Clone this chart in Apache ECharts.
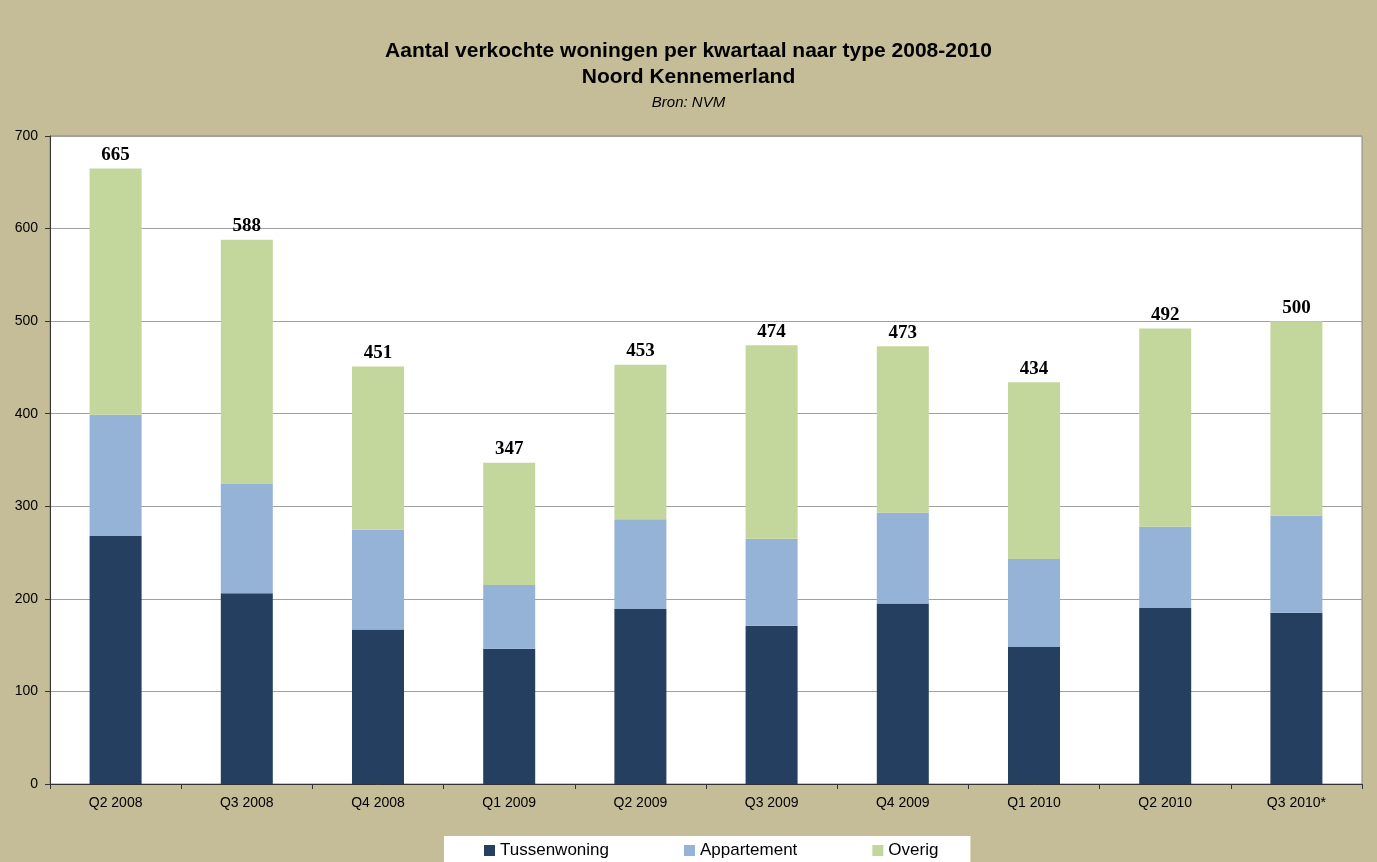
<!DOCTYPE html>
<html>
<head>
<meta charset="utf-8">
<script src="https://cdn.jsdelivr.net/npm/echarts@6/dist/echarts.min.js"></script>
<style>
html,body{margin:0;padding:0;background:#C4BD97;}
#chart{width:1377px;height:862px;}
</style>
</head>
<body>
<div id="chart"></div>
<script>
var categories = ['Q2 2008','Q3 2008','Q4 2008','Q1 2009','Q2 2009','Q3 2009','Q4 2009','Q1 2010','Q2 2010','Q3 2010*'];
var tussenwoning = [268, 206, 167, 146, 189, 171, 195, 148, 190, 185];
var appartement  = [131, 118, 108, 69, 97, 94, 98, 95, 88, 105];
var overig       = [266, 264, 176, 132, 167, 209, 180, 191, 214, 210];
var totals       = [665, 588, 451, 347, 453, 474, 473, 434, 492, 500];
var yTicks = [0, 100, 200, 300, 400, 500, 600, 700];

var FONT = '"Liberation Sans", Arial, sans-serif';
var chart = echarts.init(document.getElementById('chart'), null, {renderer: 'canvas'});
chart.setOption({
  backgroundColor: '#C4BD97',
  animation: false,
  title: [
    {text: 'Aantal verkochte woningen per kwartaal naar type 2008-2010', left: 'center', top: 36,
     textStyle: {fontFamily: FONT, fontSize: 21, fontWeight: 'bold', color: '#000'}},
    {text: 'Noord Kennemerland', left: 'center', top: 62,
     textStyle: {fontFamily: FONT, fontSize: 21, fontWeight: 'bold', color: '#000'}},
    {text: 'Bron: NVM', left: 'center', top: 90,
     textStyle: {fontFamily: FONT, fontSize: 15, fontStyle: 'italic', fontWeight: 'normal', color: '#000'}}
  ],
  legend: {
    left: 444, top: 836,
    backgroundColor: '#fff',
    padding: [6, 32, 10, 40],
    itemWidth: 11, itemHeight: 11, itemGap: 75,
    icon: 'rect',
    textStyle: {fontFamily: FONT, fontSize: 17, color: '#000'},
    data: ['Tussenwoning', 'Appartement', 'Overig']
  },
  grid: {
    left: 50, right: 15, top: 136, bottom: 78,
    show: true, backgroundColor: '#fff', borderColor: '#888', borderWidth: 1
  },
  xAxis: {
    type: 'category',
    data: categories,
    axisLine: {lineStyle: {color: '#333', width: 1}},
    axisTick: {show: true, length: 5, lineStyle: {color: '#333'}},
    axisLabel: {fontFamily: FONT, fontSize: 14, color: '#000', margin: 12}
  },
  yAxis: {
    type: 'value',
    min: yTicks[0], max: yTicks[yTicks.length - 1], interval: 100,
    axisLine: {show: true, lineStyle: {color: '#333', width: 1}},
    axisTick: {show: true, length: 5, lineStyle: {color: '#333'}},
    axisLabel: {fontFamily: FONT, fontSize: 14, color: '#000', margin: 12},
    splitLine: {lineStyle: {color: '#A0A0A0', width: 1}}
  },
  series: [
    {name: 'Tussenwoning', type: 'bar', stack: 'a', barWidth: 52, data: tussenwoning,
     itemStyle: {color: '#243F60'}},
    {name: 'Appartement', type: 'bar', stack: 'a', barWidth: 52, data: appartement,
     itemStyle: {color: '#95B3D7'}},
    {name: 'Overig', type: 'bar', stack: 'a', barWidth: 52, data: overig,
     itemStyle: {color: '#C3D69B'},
     label: {show: true, position: 'top', distance: 4,
       fontFamily: '"Liberation Serif", "Times New Roman", serif', fontSize: 19, fontWeight: 'bold', color: '#000',
       formatter: function (p) { return totals[p.dataIndex]; }}}
  ]
});
</script>
</body>
</html>
